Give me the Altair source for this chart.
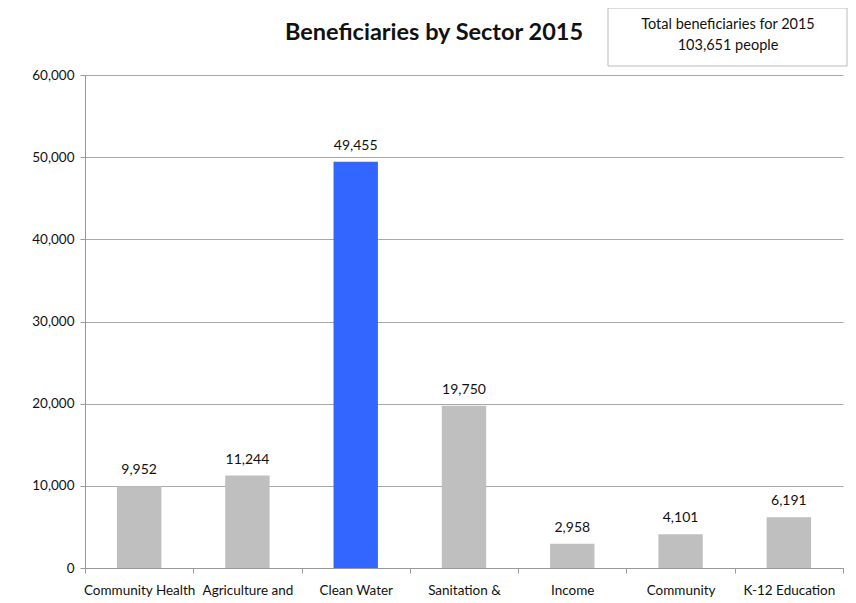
import altair as alt
import pandas as pd

sectors = ["Community Health", "Agriculture and", "Clean Water", "Sanitation &",
           "Income", "Community", "K-12 Education"]
beneficiaries = [9952, 11244, 49455, 19750, 2958, 4101, 6191]
highlight = [False, False, True, False, False, False, False]
y_ticks = [0, 10000, 20000, 30000, 40000, 50000, 60000]
title_text = "Beneficiaries by Sector 2015"
box_lines = ["Total beneficiaries for 2015", "103,651 people"]

df = pd.DataFrame({"sector": sectors, "value": beneficiaries, "hl": highlight})

FONT = "Lato"

x_enc = alt.X("sector:N", sort=sectors, title=None,
              scale=alt.Scale(paddingInner=0, paddingOuter=0),
              axis=alt.Axis(labelAngle=0, labelFont=FONT, labelFontSize=13.5,
                            labelColor="#111", labelPadding=10, tickBand="extent",
                            tickSize=5, tickColor="#999", domainColor="#999",
                            grid=False))
y_enc = alt.Y("value:Q", title=None,
              scale=alt.Scale(domain=[0, 60000], nice=False),
              axis=alt.Axis(values=y_ticks, format=",d", labelFont=FONT,
                            labelFontSize=13.5, labelColor="#111", labelPadding=6,
                            tickSize=5, tickColor="#999", domainColor="#999",
                            gridColor="#a8a8a8", gridWidth=1))

base = alt.Chart(df)

bars = base.mark_bar(width={"band": 0.41}).encode(
    x=x_enc, y=y_enc,
    color=alt.Color("hl:N", scale=alt.Scale(domain=[False, True],
                                            range=["#bfbfbf", "#3366ff"]),
                    legend=None),
)

labels = base.mark_text(dy=-16, font=FONT, fontSize=14, color="#111").encode(
    x=alt.X("sector:N", sort=sectors),
    y="value:Q",
    text=alt.Text("value:Q", format=",d"),
)

title = alt.Chart(pd.DataFrame({"t": [title_text]})).mark_text(
    font=FONT, fontSize=23.5, fontWeight="bold", color="#111"
).encode(x=alt.value(349), y=alt.value(-42), text="t:N")

box = alt.Chart(pd.DataFrame({"a": [1]})).mark_rect(
    fill="white", stroke="#bbbbbb", strokeWidth=1
).encode(x=alt.value(523), x2=alt.value(762), y=alt.value(-67), y2=alt.value(-9))

box_df = pd.DataFrame({"t": box_lines, "yy": [-50, -29]})
box_text = alt.Chart(box_df).mark_text(
    font=FONT, fontSize=14.5, color="#111"
).encode(x=alt.value(643), y=alt.Y("yy:Q", scale=None), text="t:N")

chart = alt.layer(bars, labels, title, box, box_text).properties(
    width=758, height=493,
    padding={"left": 77, "top": 67, "right": 5, "bottom": 33},
    autosize=alt.AutoSizeParams(type="none"),
).configure_view(stroke=None)

chart.save("out.html", embed_options={"renderer": "svg", "actions": False})
